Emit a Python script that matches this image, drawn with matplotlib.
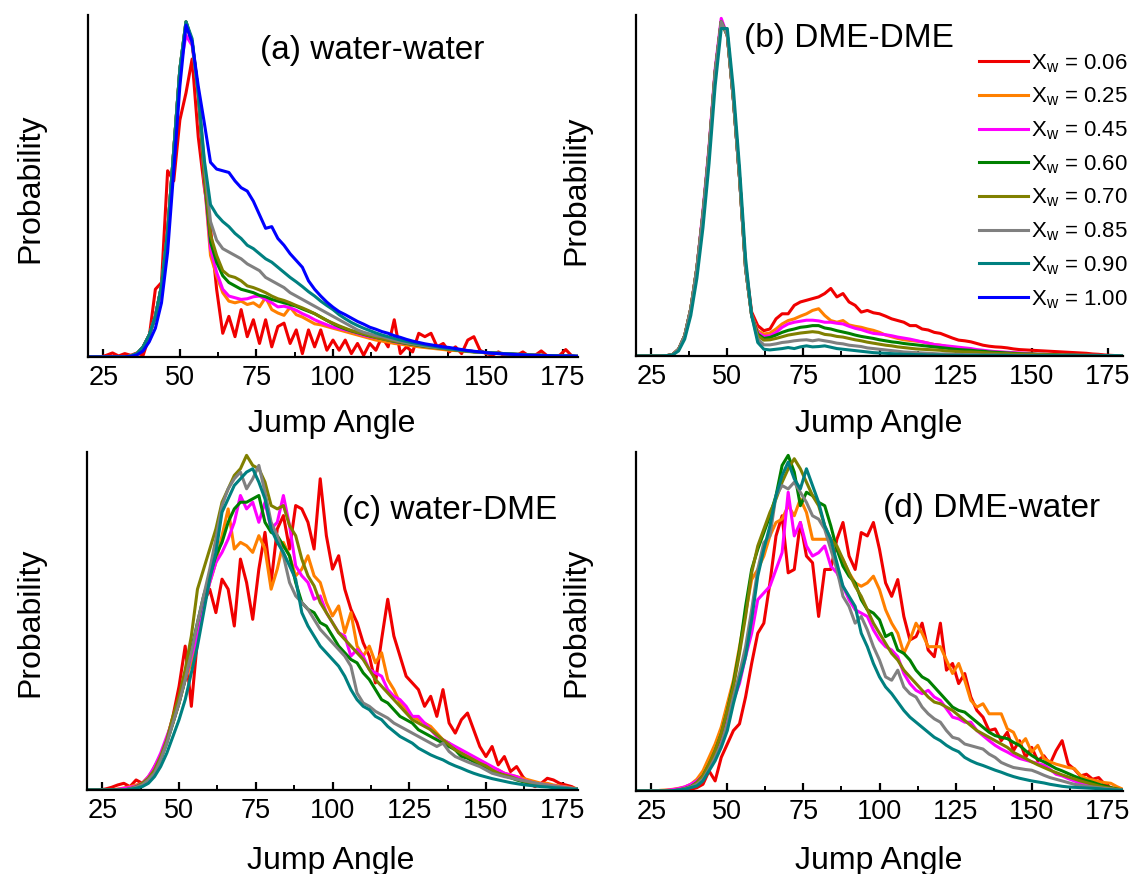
import numpy as np
import matplotlib
matplotlib.use('Agg')
import matplotlib.pyplot as plt
from matplotlib.ticker import AutoMinorLocator

plt.rcParams['font.family'] = ['Liberation Sans', 'DejaVu Sans']
plt.rcParams['mathtext.fontset'] = 'custom'
plt.rcParams['mathtext.rm'] = 'Liberation Sans'
plt.rcParams['mathtext.it'] = 'Liberation Sans'
plt.rcParams['mathtext.default'] = 'regular'

ANGLE = np.arange(20, 181, 2)

XW_LABELS = ['0.06', '0.25', '0.45', '0.60', '0.70', '0.85', '0.90', '1.00']
COLORS = ['#f00000', '#ff8000', '#ff00ff', '#008000', '#808000', '#808080', '#008080', '#0000ff']

XTICKS = [25, 50, 75, 100, 125, 150, 175]
PANEL_TITLES = ['(a) water-water', '(b) DME-DME', '(c) water-DME', '(d) DME-water']

# ---------------- (a) water-water ----------------
ww_006 = [0, 0, 0, 0.005, 0.012, 0.003, 0.01, 0.005, 0.012, 0.005,
          0.06, 0.20, 0.22, 0.55, 0.52, 0.70, 0.78, 0.88, 0.65, 0.50,
          0.38, 0.20, 0.07, 0.12, 0.06, 0.14, 0.06, 0.11, 0.04, 0.11,
          0.03, 0.09, 0.10, 0.04, 0.08, 0.01, 0.08, 0.03, 0.08, 0.02,
          0.05, 0.02, 0.05, 0.01, 0.04, 0.005, 0.04, 0.02, 0.06, 0.03,
          0.11, 0.01, 0.03, 0.015, 0.07, 0.06, 0.07, 0.03, 0.04, 0.015,
          0.03, 0.01, 0.05, 0.06, 0.02, 0.01, 0.005, 0.015, 0.003, 0.01,
          0.005, 0.015, 0.003, 0.005, 0.018, 0.003, 0.002, 0.005, 0.022, 0.003,
          0]
ww_025 = [0, 0, 0, 0, 0, 0, 0, 0.003, 0.01, 0.03,
          0.065, 0.12, 0.21, 0.37, 0.61, 0.85, 0.98, 0.93, 0.78, 0.52,
          0.30, 0.24, 0.19, 0.165, 0.16, 0.165, 0.155, 0.16, 0.148, 0.176,
          0.14, 0.13, 0.123, 0.147, 0.125, 0.118, 0.108, 0.098, 0.095, 0.09,
          0.085, 0.08, 0.075, 0.07, 0.065, 0.06, 0.055, 0.05, 0.047, 0.044,
          0.04, 0.038, 0.035, 0.033, 0.03, 0.028, 0.026, 0.024, 0.022, 0.02,
          0.019, 0.018, 0.016, 0.015, 0.014, 0.012, 0.011, 0.01, 0.009, 0.008,
          0.007, 0.006, 0.006, 0.005, 0.004, 0.004, 0.003, 0.003, 0.002, 0.002,
          0.001]
ww_045 = [0, 0, 0, 0, 0, 0, 0, 0.003, 0.01, 0.03,
          0.065, 0.12, 0.21, 0.37, 0.61, 0.85, 0.95, 0.92, 0.78, 0.52,
          0.32, 0.25, 0.20, 0.18, 0.175, 0.17, 0.172, 0.178, 0.18, 0.17,
          0.16, 0.148, 0.15, 0.145, 0.138, 0.128, 0.12, 0.11, 0.102, 0.095,
          0.088, 0.084, 0.08, 0.076, 0.07, 0.064, 0.06, 0.057, 0.055, 0.05,
          0.045, 0.042, 0.04, 0.038, 0.035, 0.032, 0.03, 0.028, 0.026, 0.024,
          0.022, 0.02, 0.018, 0.016, 0.014, 0.013, 0.012, 0.011, 0.01, 0.009,
          0.008, 0.007, 0.006, 0.005, 0.005, 0.004, 0.004, 0.003, 0.003, 0.002,
          0.002]
ww_060 = [0, 0, 0, 0, 0, 0, 0, 0.003, 0.01, 0.03,
          0.065, 0.12, 0.21, 0.37, 0.61, 0.85, 0.99, 0.93, 0.78, 0.53,
          0.34, 0.28, 0.24, 0.22, 0.21, 0.20, 0.195, 0.19, 0.182, 0.178,
          0.17, 0.165, 0.16, 0.155, 0.15, 0.142, 0.135, 0.128, 0.118, 0.108,
          0.098, 0.09, 0.083, 0.077, 0.072, 0.067, 0.062, 0.058, 0.054, 0.05,
          0.046, 0.043, 0.04, 0.037, 0.034, 0.031, 0.029, 0.027, 0.025, 0.023,
          0.021, 0.019, 0.017, 0.015, 0.014, 0.013, 0.012, 0.011, 0.01, 0.009,
          0.008, 0.007, 0.006, 0.005, 0.005, 0.004, 0.004, 0.003, 0.003, 0.002,
          0.002]
ww_070 = [0, 0, 0, 0, 0, 0, 0, 0.003, 0.01, 0.03,
          0.065, 0.12, 0.21, 0.37, 0.61, 0.85, 0.99, 0.93, 0.78, 0.54,
          0.36, 0.30, 0.255, 0.24, 0.235, 0.225, 0.21, 0.205, 0.198, 0.19,
          0.18, 0.172, 0.167, 0.16, 0.152, 0.145, 0.137, 0.128, 0.118, 0.108,
          0.10, 0.092, 0.085, 0.078, 0.073, 0.068, 0.063, 0.058, 0.054, 0.05,
          0.047, 0.044, 0.041, 0.038, 0.035, 0.032, 0.03, 0.028, 0.026, 0.024,
          0.022, 0.02, 0.018, 0.016, 0.014, 0.013, 0.012, 0.011, 0.01, 0.009,
          0.008, 0.007, 0.006, 0.005, 0.005, 0.004, 0.004, 0.003, 0.003, 0.002,
          0.002]
ww_085 = [0, 0, 0, 0, 0, 0, 0, 0.003, 0.01, 0.03,
          0.065, 0.12, 0.21, 0.37, 0.61, 0.85, 0.99, 0.93, 0.78, 0.57,
          0.40, 0.345, 0.32, 0.31, 0.30, 0.29, 0.275, 0.265, 0.255, 0.235,
          0.225, 0.215, 0.205, 0.19, 0.18, 0.17, 0.16, 0.15, 0.14, 0.13,
          0.12, 0.11, 0.10, 0.09, 0.08, 0.073, 0.068, 0.063, 0.06, 0.055,
          0.05, 0.046, 0.042, 0.039, 0.036, 0.033, 0.03, 0.028, 0.026, 0.024,
          0.022, 0.02, 0.018, 0.016, 0.014, 0.013, 0.012, 0.011, 0.01, 0.009,
          0.008, 0.007, 0.006, 0.005, 0.005, 0.004, 0.004, 0.003, 0.003, 0.002,
          0.002]
ww_090 = [0, 0, 0, 0, 0, 0, 0, 0.003, 0.01, 0.03,
          0.065, 0.12, 0.21, 0.37, 0.61, 0.85, 0.99, 0.94, 0.78, 0.58,
          0.45, 0.42, 0.40, 0.385, 0.365, 0.35, 0.33, 0.32, 0.305, 0.29,
          0.28, 0.265, 0.25, 0.235, 0.222, 0.208, 0.193, 0.18, 0.165, 0.152,
          0.14, 0.125, 0.113, 0.102, 0.093, 0.085, 0.078, 0.071, 0.065, 0.06,
          0.055, 0.05, 0.046, 0.042, 0.039, 0.036, 0.033, 0.03, 0.027, 0.025,
          0.022, 0.02, 0.018, 0.016, 0.015, 0.013, 0.012, 0.011, 0.01, 0.009,
          0.008, 0.007, 0.006, 0.005, 0.005, 0.004, 0.004, 0.003, 0.003, 0.003,
          0.002]
ww_100 = [0, 0, 0, 0, 0, 0, 0, 0.002, 0.006, 0.018,
          0.045, 0.085, 0.16, 0.31, 0.55, 0.80, 0.98, 0.93, 0.80, 0.69,
          0.575, 0.555, 0.55, 0.545, 0.52, 0.50, 0.49, 0.46, 0.42, 0.38,
          0.385, 0.35, 0.33, 0.305, 0.285, 0.265, 0.225, 0.20, 0.18, 0.162,
          0.147, 0.134, 0.125, 0.115, 0.105, 0.097, 0.088, 0.082, 0.075, 0.07,
          0.063, 0.058, 0.052, 0.047, 0.043, 0.039, 0.036, 0.033, 0.03, 0.028,
          0.025, 0.022, 0.019, 0.017, 0.015, 0.013, 0.011, 0.01, 0.009, 0.008,
          0.007, 0.006, 0.005, 0.005, 0.004, 0.004, 0.003, 0.003, 0.003, 0.003,
          0.002]

# ---------------- (b) DME-DME ----------------
dd_006 = [0, 0, 0, 0, 0, 0.001, 0.004, 0.02, 0.06, 0.14,
          0.26, 0.42, 0.61, 0.84, 0.99, 0.95, 0.76, 0.53, 0.27, 0.13,
          0.09, 0.075, 0.08, 0.11, 0.125, 0.125, 0.15, 0.16, 0.165, 0.17,
          0.175, 0.185, 0.20, 0.175, 0.185, 0.16, 0.15, 0.13, 0.135, 0.128,
          0.125, 0.118, 0.11, 0.105, 0.10, 0.09, 0.09, 0.08, 0.077, 0.07,
          0.067, 0.06, 0.053, 0.047, 0.045, 0.042, 0.037, 0.032, 0.029, 0.027,
          0.026, 0.024, 0.021, 0.019, 0.018, 0.017, 0.016, 0.015, 0.014, 0.013,
          0.012, 0.011, 0.01, 0.009, 0.008, 0.006, 0.005, 0.003, 0.002, 0.001,
          0]
dd_025 = [0, 0, 0, 0, 0, 0.001, 0.004, 0.02, 0.06, 0.14,
          0.26, 0.42, 0.61, 0.84, 0.99, 0.95, 0.76, 0.53, 0.26, 0.12,
          0.075, 0.065, 0.068, 0.08, 0.095, 0.105, 0.11, 0.118, 0.125, 0.135,
          0.14, 0.12, 0.105, 0.10, 0.105, 0.092, 0.088, 0.085, 0.08, 0.076,
          0.07, 0.062, 0.057, 0.052, 0.048, 0.046, 0.044, 0.042, 0.038, 0.034,
          0.032, 0.028, 0.024, 0.021, 0.019, 0.018, 0.016, 0.014, 0.013, 0.012,
          0.011, 0.01, 0.009, 0.008, 0.007, 0.006, 0.005, 0.005, 0.004, 0.004,
          0.003, 0.003, 0.003, 0.002, 0.002, 0.002, 0.002, 0.001, 0.001, 0.001,
          0]
dd_045 = [0, 0, 0, 0, 0, 0.001, 0.004, 0.02, 0.06, 0.14,
          0.26, 0.43, 0.62, 0.85, 1.0, 0.95, 0.76, 0.53, 0.26, 0.12,
          0.07, 0.058, 0.06, 0.07, 0.085, 0.095, 0.10, 0.103, 0.106, 0.106,
          0.104, 0.10, 0.10, 0.097, 0.095, 0.088, 0.082, 0.078, 0.072, 0.067,
          0.065, 0.063, 0.06, 0.056, 0.053, 0.05, 0.046, 0.042, 0.038, 0.034,
          0.032, 0.03, 0.028, 0.026, 0.024, 0.022, 0.019, 0.017, 0.015, 0.013,
          0.012, 0.011, 0.01, 0.009, 0.008, 0.006, 0.005, 0.005, 0.004, 0.004,
          0.003, 0.003, 0.003, 0.002, 0.002, 0.002, 0.002, 0.001, 0.001, 0.001,
          0]
dd_060 = [0, 0, 0, 0, 0, 0.001, 0.004, 0.02, 0.06, 0.14,
          0.26, 0.42, 0.61, 0.84, 0.99, 0.95, 0.76, 0.53, 0.26, 0.12,
          0.065, 0.052, 0.055, 0.062, 0.07, 0.076, 0.08, 0.085, 0.087, 0.09,
          0.09, 0.083, 0.08, 0.075, 0.071, 0.067, 0.062, 0.058, 0.055, 0.052,
          0.048, 0.045, 0.042, 0.04, 0.037, 0.035, 0.033, 0.031, 0.029, 0.027,
          0.025, 0.023, 0.021, 0.019, 0.018, 0.017, 0.015, 0.014, 0.012, 0.011,
          0.01, 0.009, 0.008, 0.007, 0.006, 0.006, 0.005, 0.005, 0.004, 0.004,
          0.003, 0.003, 0.003, 0.002, 0.002, 0.002, 0.002, 0.001, 0.001, 0.001,
          0]
dd_070 = [0, 0, 0, 0, 0, 0.001, 0.004, 0.02, 0.06, 0.14,
          0.26, 0.42, 0.61, 0.84, 0.99, 0.95, 0.76, 0.53, 0.26, 0.12,
          0.06, 0.047, 0.048, 0.052, 0.057, 0.062, 0.065, 0.068, 0.07, 0.072,
          0.07, 0.064, 0.062, 0.058, 0.056, 0.052, 0.048, 0.045, 0.041, 0.038,
          0.035, 0.032, 0.03, 0.027, 0.025, 0.023, 0.021, 0.02, 0.019, 0.018,
          0.017, 0.015, 0.014, 0.013, 0.012, 0.012, 0.011, 0.01, 0.009, 0.008,
          0.007, 0.007, 0.006, 0.006, 0.005, 0.005, 0.004, 0.004, 0.003, 0.003,
          0.003, 0.002, 0.002, 0.002, 0.002, 0.001, 0.001, 0.001, 0.001, 0.001,
          0]
dd_085 = [0, 0, 0, 0, 0, 0.001, 0.004, 0.02, 0.06, 0.14,
          0.26, 0.42, 0.61, 0.84, 0.99, 0.95, 0.76, 0.53, 0.26, 0.12,
          0.05, 0.033, 0.033, 0.036, 0.04, 0.042, 0.045, 0.047, 0.048, 0.045,
          0.048, 0.045, 0.042, 0.038, 0.036, 0.032, 0.03, 0.028, 0.024, 0.022,
          0.02, 0.018, 0.016, 0.014, 0.012, 0.011, 0.01, 0.009, 0.008, 0.007,
          0.006, 0.006, 0.005, 0.005, 0.004, 0.004, 0.004, 0.003, 0.003, 0.003,
          0.002, 0.002, 0.002, 0.002, 0.002, 0.002, 0.002, 0.002, 0.002, 0.002,
          0.002, 0.001, 0.001, 0.001, 0.001, 0.001, 0.001, 0.001, 0.001, 0.001,
          0]
dd_090 = [0, 0, 0, 0, 0, 0.001, 0.003, 0.015, 0.05, 0.12,
          0.23, 0.38, 0.57, 0.80, 0.97, 0.97, 0.79, 0.56, 0.29, 0.12,
          0.04, 0.02, 0.018, 0.02, 0.022, 0.025, 0.022, 0.027, 0.03, 0.027,
          0.028, 0.03, 0.026, 0.022, 0.02, 0.018, 0.016, 0.014, 0.012, 0.01,
          0.009, 0.008, 0.007, 0.006, 0.005, 0.005, 0.004, 0.004, 0.003, 0.003,
          0.003, 0.002, 0.002, 0.002, 0.002, 0.002, 0.002, 0.002, 0.002, 0.002,
          0.002, 0.002, 0.001, 0.001, 0.001, 0.001, 0.001, 0.001, 0.001, 0.001,
          0.001, 0.001, 0.001, 0.001, 0.001, 0.001, 0.001, 0.001, 0.001, 0.001,
          0]

# ---------------- (c) water-DME ----------------
wd_006 = [0, 0, 0, 0.003, 0.008, 0.015, 0.02, 0.01, 0.03, 0.02,
          0.03, 0.07, 0.10, 0.15, 0.22, 0.31, 0.43, 0.25, 0.45, 0.56,
          0.60, 0.53, 0.63, 0.60, 0.49, 0.69, 0.62, 0.51, 0.66, 0.77,
          0.62, 0.78, 0.82, 0.72, 0.85, 0.84, 0.80, 0.72, 0.93, 0.76,
          0.66, 0.70, 0.60, 0.54, 0.50, 0.44, 0.40, 0.32, 0.45, 0.57,
          0.46, 0.40, 0.34, 0.32, 0.30, 0.25, 0.28, 0.22, 0.30, 0.20,
          0.17, 0.21, 0.23, 0.18, 0.13, 0.10, 0.13, 0.075, 0.10, 0.055,
          0.07, 0.04, 0.02, 0.01, 0.02, 0.035, 0.03, 0.02, 0.015, 0.01,
          0]
wd_025 = [0, 0, 0, 0, 0, 0.003, 0.006, 0.01, 0.015, 0.02,
          0.04, 0.065, 0.10, 0.15, 0.20, 0.26, 0.33, 0.38, 0.45, 0.55,
          0.62, 0.68, 0.76, 0.84, 0.72, 0.74, 0.73, 0.71, 0.76, 0.72,
          0.60, 0.66, 0.74, 0.70, 0.64, 0.66, 0.70, 0.64, 0.62, 0.56,
          0.52, 0.55, 0.47, 0.53, 0.43, 0.40, 0.43, 0.38, 0.41, 0.33,
          0.30, 0.26, 0.24, 0.22, 0.21, 0.20, 0.19, 0.17, 0.15, 0.14,
          0.12, 0.11, 0.10, 0.095, 0.085, 0.075, 0.065, 0.06, 0.05, 0.045,
          0.04, 0.035, 0.03, 0.025, 0.02, 0.02, 0.015, 0.012, 0.01, 0.006,
          0.004]
wd_045 = [0, 0, 0, 0, 0, 0.002, 0.005, 0.008, 0.012, 0.02,
          0.04, 0.07, 0.11, 0.16, 0.21, 0.27, 0.33, 0.40, 0.46, 0.55,
          0.62, 0.68, 0.71, 0.75, 0.80, 0.88, 0.84, 0.86, 0.80, 0.86,
          0.78, 0.80, 0.88, 0.79, 0.67, 0.64, 0.62, 0.57, 0.58, 0.53,
          0.50, 0.47, 0.46, 0.40, 0.42, 0.40, 0.36, 0.35, 0.34, 0.30,
          0.28, 0.27, 0.25, 0.22, 0.22, 0.20, 0.18, 0.16, 0.15, 0.14,
          0.13, 0.12, 0.11, 0.10, 0.09, 0.08, 0.07, 0.06, 0.05, 0.045,
          0.04, 0.03, 0.025, 0.02, 0.018, 0.015, 0.012, 0.01, 0.008, 0.005,
          0.003]
wd_060 = [0, 0, 0, 0, 0, 0, 0, 0.003, 0.008, 0.018,
          0.03, 0.055, 0.09, 0.14, 0.20, 0.26, 0.33, 0.42, 0.50, 0.58,
          0.64, 0.70, 0.74, 0.80, 0.84, 0.86, 0.86, 0.87, 0.88, 0.80,
          0.77, 0.76, 0.73, 0.70, 0.62, 0.56, 0.54, 0.53, 0.50, 0.49,
          0.46, 0.43, 0.41, 0.39, 0.38, 0.35, 0.33, 0.30, 0.27, 0.26,
          0.24, 0.22, 0.21, 0.20, 0.18, 0.17, 0.16, 0.15, 0.14, 0.13,
          0.12, 0.10, 0.095, 0.085, 0.075, 0.065, 0.055, 0.05, 0.043, 0.037,
          0.03, 0.025, 0.02, 0.017, 0.014, 0.011, 0.009, 0.007, 0.005, 0.004,
          0.003]
wd_070 = [0, 0, 0, 0, 0, 0, 0, 0.004, 0.01, 0.02,
          0.035, 0.06, 0.10, 0.15, 0.22, 0.28, 0.36, 0.46, 0.60, 0.66,
          0.72, 0.78, 0.86, 0.90, 0.94, 0.96, 1.0, 0.97, 0.96, 0.92,
          0.85, 0.84, 0.85, 0.79, 0.76, 0.69, 0.64, 0.61, 0.56, 0.53,
          0.50, 0.47, 0.45, 0.43, 0.41, 0.39, 0.36, 0.33, 0.31, 0.29,
          0.27, 0.25, 0.23, 0.21, 0.20, 0.19, 0.18, 0.165, 0.15, 0.135,
          0.12, 0.11, 0.10, 0.09, 0.08, 0.072, 0.06, 0.05, 0.045, 0.04,
          0.033, 0.028, 0.023, 0.019, 0.016, 0.013, 0.01, 0.008, 0.006, 0.005,
          0.003]
wd_085 = [0, 0, 0, 0, 0, 0, 0, 0.003, 0.008, 0.015,
          0.03, 0.05, 0.09, 0.14, 0.20, 0.26, 0.33, 0.41, 0.50, 0.58,
          0.66, 0.75, 0.85, 0.90, 0.93, 0.95, 0.90, 0.93, 0.97, 0.89,
          0.80, 0.76, 0.70, 0.62, 0.58, 0.56, 0.54, 0.51, 0.48, 0.46,
          0.44, 0.42, 0.40, 0.37, 0.29, 0.26, 0.25, 0.235, 0.225, 0.215,
          0.20, 0.19, 0.18, 0.17, 0.16, 0.15, 0.14, 0.13, 0.14, 0.115,
          0.10, 0.092, 0.084, 0.077, 0.07, 0.06, 0.05, 0.045, 0.04, 0.036,
          0.032, 0.028, 0.025, 0.021, 0.018, 0.015, 0.012, 0.01, 0.007, 0.005,
          0.003]
wd_090 = [0, 0, 0, 0, 0, 0, 0, 0.002, 0.005, 0.01,
          0.02, 0.04, 0.07, 0.11, 0.16, 0.21, 0.27, 0.35, 0.43, 0.53,
          0.63, 0.71, 0.83, 0.87, 0.91, 0.93, 0.95, 0.96, 0.92, 0.87,
          0.78, 0.74, 0.71, 0.67, 0.63, 0.53, 0.49, 0.46, 0.43, 0.41,
          0.39, 0.37, 0.34, 0.30, 0.27, 0.25, 0.24, 0.22, 0.21, 0.19,
          0.175, 0.16, 0.15, 0.14, 0.125, 0.115, 0.105, 0.097, 0.09, 0.08,
          0.072, 0.065, 0.057, 0.05, 0.044, 0.039, 0.034, 0.03, 0.026, 0.022,
          0.019, 0.016, 0.014, 0.012, 0.01, 0.009, 0.007, 0.006, 0.005, 0.003,
          0.002]

# ---------------- (d) DME-water ----------------
dw_006 = [0, 0, 0, 0, 0, 0, 0, 0, 0.003, 0.005,
          0.01, 0.02, 0.06, 0.03, 0.10, 0.14, 0.18, 0.20, 0.28, 0.38,
          0.47, 0.50, 0.62, 0.76, 0.82, 0.65, 0.66, 0.80, 0.70, 0.68,
          0.52, 0.66, 0.66, 0.75, 0.80, 0.70, 0.66, 0.77, 0.76, 0.80,
          0.72, 0.62, 0.58, 0.63, 0.52, 0.45, 0.46, 0.50, 0.42, 0.40,
          0.50, 0.36, 0.38, 0.32, 0.35, 0.28, 0.24, 0.22, 0.18, 0.185,
          0.15, 0.175, 0.12, 0.15, 0.10, 0.13, 0.09, 0.105, 0.08, 0.12,
          0.15, 0.08, 0.065, 0.045, 0.05, 0.035, 0.04, 0.02, 0.01, 0.005,
          0]
dw_025 = [0, 0, 0, 0, 0.002, 0.003, 0.005, 0.008, 0.012, 0.02,
          0.035, 0.06, 0.10, 0.14, 0.19, 0.26, 0.33, 0.43, 0.53, 0.63,
          0.66, 0.70, 0.76, 0.80, 0.81, 0.85, 0.82, 0.87, 0.83, 0.75,
          0.75, 0.75, 0.75, 0.72, 0.69, 0.65, 0.62, 0.61, 0.62, 0.64,
          0.60, 0.54, 0.50, 0.47, 0.41, 0.45, 0.50, 0.47, 0.43, 0.43,
          0.43, 0.39, 0.35, 0.38, 0.33, 0.27, 0.25, 0.26, 0.23, 0.23,
          0.23, 0.185, 0.175, 0.136, 0.156, 0.116, 0.136, 0.097, 0.087, 0.08,
          0.075, 0.07, 0.067, 0.047, 0.037, 0.033, 0.028, 0.025, 0.023, 0.013,
          0.005]
dw_045 = [0, 0, 0, 0, 0, 0.002, 0.004, 0.007, 0.012, 0.02,
          0.03, 0.045, 0.07, 0.10, 0.15, 0.21, 0.27, 0.32, 0.40, 0.47,
          0.57, 0.59, 0.61, 0.66, 0.71, 0.89, 0.76, 0.80, 0.73, 0.70,
          0.71, 0.73, 0.67, 0.65, 0.61, 0.57, 0.54, 0.53, 0.52, 0.48,
          0.45, 0.43, 0.42, 0.40, 0.35, 0.32, 0.30, 0.29, 0.30, 0.28,
          0.27, 0.245, 0.22, 0.215, 0.205, 0.205, 0.18, 0.165, 0.15, 0.136,
          0.125, 0.116, 0.106, 0.097, 0.092, 0.087, 0.082, 0.077, 0.065, 0.05,
          0.045, 0.037, 0.03, 0.023, 0.018, 0.013, 0.008, 0.006, 0.004, 0.003,
          0.002]
dw_060 = [0, 0, 0, 0, 0, 0, 0, 0.003, 0.007, 0.013,
          0.025, 0.045, 0.08, 0.12, 0.17, 0.24, 0.32, 0.42, 0.55, 0.66,
          0.72, 0.77, 0.82, 0.88, 0.97, 1.0, 0.95, 0.85, 0.89, 0.88,
          0.86, 0.85, 0.79, 0.72, 0.67, 0.64, 0.62, 0.57, 0.54, 0.53,
          0.51, 0.46, 0.47, 0.42, 0.41, 0.39, 0.36, 0.34, 0.33, 0.31,
          0.29, 0.27, 0.25, 0.24, 0.235, 0.22, 0.205, 0.19, 0.175, 0.165,
          0.16, 0.156, 0.145, 0.136, 0.12, 0.106, 0.095, 0.087, 0.077, 0.067,
          0.06, 0.052, 0.044, 0.037, 0.031, 0.026, 0.02, 0.015, 0.01, 0.006,
          0.003]
dw_070 = [0, 0, 0, 0, 0, 0, 0, 0.003, 0.007, 0.013,
          0.025, 0.045, 0.08, 0.12, 0.17, 0.24, 0.31, 0.41, 0.52, 0.65,
          0.73, 0.78, 0.83, 0.87, 0.92, 0.96, 0.99, 0.96, 0.92, 0.88,
          0.85, 0.79, 0.75, 0.73, 0.69, 0.65, 0.61, 0.58, 0.54, 0.50,
          0.47, 0.44, 0.41, 0.39, 0.36, 0.34, 0.32, 0.30, 0.28, 0.265,
          0.26, 0.25, 0.24, 0.225, 0.21, 0.195, 0.18, 0.17, 0.16, 0.15,
          0.14, 0.13, 0.115, 0.106, 0.097, 0.087, 0.078, 0.07, 0.062, 0.055,
          0.048, 0.042, 0.036, 0.03, 0.025, 0.02, 0.015, 0.011, 0.008, 0.005,
          0.003]
dw_085 = [0, 0, 0, 0, 0, 0, 0, 0.003, 0.006, 0.012,
          0.02, 0.035, 0.065, 0.10, 0.14, 0.20, 0.28, 0.35, 0.43, 0.54,
          0.66, 0.74, 0.76, 0.88, 0.91, 0.90, 0.92, 0.89, 0.86, 0.82,
          0.81, 0.78, 0.72, 0.66, 0.58, 0.55, 0.50, 0.52, 0.48, 0.43,
          0.39, 0.34, 0.33, 0.36, 0.31, 0.29, 0.28, 0.25, 0.23, 0.215,
          0.205, 0.18, 0.16, 0.155, 0.14, 0.135, 0.13, 0.125, 0.11, 0.10,
          0.085, 0.077, 0.07, 0.067, 0.064, 0.062, 0.055, 0.047, 0.04, 0.035,
          0.03, 0.025, 0.02, 0.017, 0.014, 0.012, 0.01, 0.008, 0.006, 0.004,
          0.003]
dw_090 = [0, 0, 0, 0, 0, 0, 0.001, 0.003, 0.005, 0.01,
          0.015, 0.03, 0.06, 0.09, 0.13, 0.18, 0.26, 0.33, 0.40, 0.51,
          0.64, 0.72, 0.79, 0.88, 0.94, 0.98, 0.93, 0.90, 0.96, 0.91,
          0.86, 0.79, 0.75, 0.68, 0.61, 0.58, 0.55, 0.47, 0.43, 0.38,
          0.34, 0.31, 0.29, 0.265, 0.24, 0.22, 0.205, 0.19, 0.175, 0.16,
          0.15, 0.136, 0.125, 0.117, 0.10, 0.09, 0.082, 0.076, 0.069, 0.062,
          0.056, 0.049, 0.043, 0.038, 0.034, 0.03, 0.027, 0.024, 0.02, 0.017,
          0.014, 0.012, 0.011, 0.01, 0.009, 0.008, 0.007, 0.005, 0.004, 0.003,
          0.002]

PANELS = [
    [ww_006, ww_025, ww_045, ww_060, ww_070, ww_085, ww_090, ww_100],
    [dd_006, dd_025, dd_045, dd_060, dd_070, dd_085, dd_090, None],
    [wd_006, wd_025, wd_045, wd_060, wd_070, wd_085, wd_090, None],
    [dw_006, dw_025, dw_045, dw_060, dw_070, dw_085, dw_090, None],
]

W, H = 1134, 874
fig = plt.figure(figsize=(W / 100, H / 100), dpi=100)


def fx(px):
    return px / W


def fy(py):
    return 1 - py / H


# axes boxes in pixels: left, top, right, bottom
boxes = [(88, 15, 578, 357), (636, 15, 1123, 356), (87, 452, 578, 790), (636, 452, 1123, 791)]
axes = []
for (l, t, r, b) in boxes:
    ax = fig.add_axes([fx(l), fy(b), (r - l) / W, (b - t) / H])
    axes.append(ax)

handles = []
for ax, series in zip(axes, PANELS):
    for k, (vals, col, lab) in enumerate(zip(series, COLORS, XW_LABELS)):
        if vals is None:
            continue
        ln, = ax.plot(ANGLE, vals, color=col, lw=2.2, solid_joinstyle='round',
                      label=r'X$_w$ = ' + lab)
        if ax is axes[0]:
            handles.append(ln)
    ax.set_xlim(20, 180)
    ax.set_ylim(0, 1.01)
    ax.spines['top'].set_visible(False)
    ax.spines['right'].set_visible(False)
    ax.spines['left'].set_linewidth(1.6)
    ax.spines['bottom'].set_linewidth(1.6)
    ax.set_xticks(XTICKS)
    ax.xaxis.set_minor_locator(AutoMinorLocator(2))
    ax.tick_params(axis='x', which='major', direction='in', length=6, width=1.6,
                   labelsize=19.5, pad=6)
    ax.tick_params(axis='x', which='minor', direction='in', length=3.5, width=1.4)
    ax.tick_params(axis='y', which='both', left=False, labelleft=False)

# panel titles
title_pos = [(372, 50), (849, 38), (450, 510), (992, 508)]
for txt, (px, py) in zip(PANEL_TITLES, title_pos):
    fig.text(fx(px), fy(py), txt, fontsize=24, ha='center', va='center')

# axis labels
for (px, py) in [(332, 424), (879, 424), (331, 861), (879, 861)]:
    fig.text(fx(px), fy(py), 'Jump Angle', fontsize=23, ha='center', va='center')
for (px, py) in [(30, 188), (576, 190), (30, 622), (576, 622)]:
    fig.text(fx(px), fy(py), 'Probability', fontsize=23, ha='center', va='center',
             rotation=90)

leg = fig.legend(handles=handles, loc='upper right',
                 bbox_to_anchor=(fx(1128), fy(52)), bbox_transform=fig.transFigure,
                 frameon=False, fontsize=16, handlelength=2.2, handletextpad=0.15,
                 labelspacing=0.5, borderpad=0, borderaxespad=0)

fig.savefig('out.png', dpi=100)
